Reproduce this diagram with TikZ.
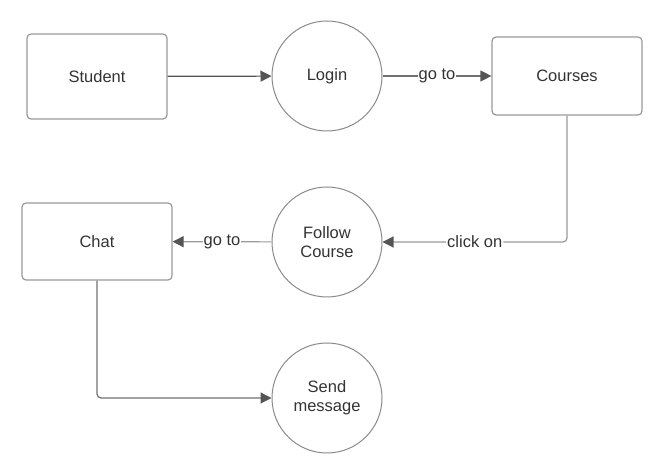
\documentclass[tikz,border=0pt]{standalone}
\usepackage{fontspec}
\setmainfont{Liberation Sans}
\usetikzlibrary{arrows.meta}
\definecolor{txt}{HTML}{333333}
\definecolor{bord}{HTML}{999999}
\definecolor{cbord}{HTML}{8A8A8A}
\definecolor{lnA}{HTML}{555555}
\definecolor{lnB}{HTML}{707070}
\definecolor{lnC}{HTML}{9A9A9A}
\definecolor{tip}{HTML}{555555}
\begin{document}
\begin{tikzpicture}[x=1pt,y=-1pt,
  every node/.style={font=\fontsize{16.5}{19}\selectfont, text=txt},
  boxnode/.style={draw=bord, line width=1.2pt, rounded corners=4pt, minimum width=#1, align=center, inner sep=0pt},
  boxnode/.default=150pt,
  circnode/.style={draw=cbord, line width=1pt, circle, minimum size=110pt, inner sep=0pt, align=center},
  conn/.style={line width=1.2pt, -{Triangle[length=11pt,width=11pt,fill=tip,color=tip]}},
  lbl/.style={fill=white, inner sep=1pt}
]
\useasboundingbox (0,0) rectangle (665,462);
\node[boxnode=140pt, minimum height=85pt] (student) at (97,76.5) {Student};
\node[circnode] (login) at (327,76) {Login};
\node[boxnode, minimum height=78pt] (courses) at (567,76) {Courses};
\node[circnode] (follow) at (327,242) {Follow\\Course};
\node[boxnode, minimum height=77pt] (chat) at (97,241.5) {Chat};
\node[circnode] (send) at (327,398) {Send\\message};

\draw[conn, draw=lnA] (student) -- (login);
\draw[conn, draw=lnB] (login) -- node[lbl]{go to} (courses);
\draw[conn, draw=lnC, rounded corners=4pt] (courses.south) |- (follow.east)
  node[lbl, pos=0.75]{click on};
\draw[conn, draw=lnC] (follow) -- node[lbl]{go to} (chat);
\draw[conn, draw=lnB, rounded corners=4pt] (chat.south) |- (send.west);
\end{tikzpicture}
\end{document}
